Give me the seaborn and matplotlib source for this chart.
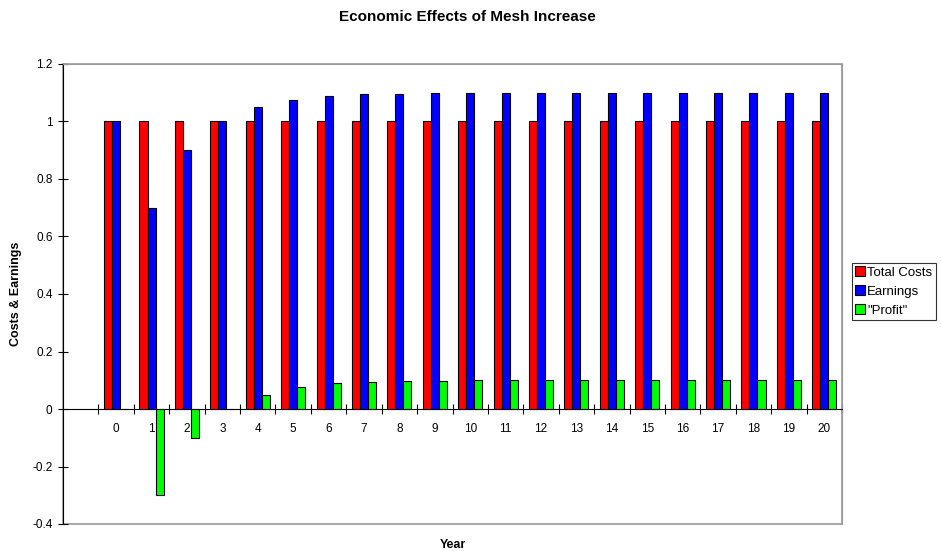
import numpy as np
import pandas as pd
import matplotlib
matplotlib.use("Agg")
import matplotlib.pyplot as plt
import seaborn as sns
from matplotlib.patches import Rectangle

years = [str(y) for y in range(21)]
total_costs = [1.0] * 21
earnings = [1.0, 0.7, 0.9, 1.0, 1.05, 1.075, 1.09, 1.095, 1.097, 1.098, 1.1,
            1.1, 1.1, 1.1, 1.1, 1.1, 1.1, 1.1, 1.1, 1.1, 1.1]
profit = [0.0, -0.3, -0.1, 0.0, 0.05, 0.075, 0.09, 0.095, 0.097, 0.098, 0.1,
          0.1, 0.1, 0.1, 0.1, 0.1, 0.1, 0.1, 0.1, 0.1, 0.1]
series = ['Total Costs', 'Earnings', '"Profit"']
colors = ['#FF0000', '#0000FF', '#00FF00']

df = pd.DataFrame({
    'Year': years * 3,
    'value': total_costs + earnings + profit,
    'series': [s for s in series for _ in years],
})

sns.set_style('white')
plt.rcParams['font.family'] = ['Liberation Sans', 'DejaVu Sans']
plt.rcParams['text.color'] = 'black'
plt.rcParams['xtick.color'] = 'black'
plt.rcParams['ytick.color'] = 'black'

fig = plt.figure(figsize=(9.41, 5.51), dpi=100)
ax = fig.add_axes([63 / 941, 27 / 551, 779 / 941, 460 / 551])

sns.barplot(data=df, x='Year', y='value', hue='series', order=years,
            hue_order=series, palette=colors, saturation=1, width=0.68, gap=0,
            edgecolor='black', linewidth=0.8, ax=ax, errorbar=None)

ax.set_xlim(-1.5, 20.5)
ax.set_ylim(-0.4, 1.2)
ax.set_yticks(np.arange(-0.4, 1.21, 0.2))
ax.set_yticklabels(['-0.4', '-0.2', '0', '0.2', '0.4', '0.6', '0.8', '1', '1.2'])
ax.tick_params(axis='y', direction='inout', length=7, width=0.8, labelsize=8.5, pad=4, left=True)

# x axis drawn on the zero line, tick marks on the category boundaries
ax.spines['bottom'].set_position(('data', 0))
ax.spines['bottom'].set_color('black')
ax.spines['bottom'].set_linewidth(0.8)
ax.spines['left'].set_color('black')
ax.spines['left'].set_linewidth(0.8)
ax.spines['top'].set_color('#999999')
ax.spines['right'].set_color('#999999')
ax.set_xticks(np.arange(-0.5, 20.6, 1), minor=True)
ax.tick_params(axis='x', which='minor', direction='inout', length=7, width=0.8, bottom=True)
ax.tick_params(axis='x', which='major', length=0, labelsize=8.5, pad=10)
ax.add_patch(Rectangle((0, 0), 1, 1, transform=ax.transAxes, fill=False,
                       edgecolor='#999999', linewidth=1.2, clip_on=False, zorder=0))

ax.set_xlabel('')
ax.set_ylabel('')
fig.text(453 / 941, 1 - 545 / 551, 'Year', ha='center', va='center', fontsize=9, fontweight='bold')
fig.text(16.5 / 941, 1 - 294 / 551, 'Costs & Earnings', ha='center', va='center',
         rotation=90, fontsize=9, fontweight='bold')
fig.text(467 / 941, 1 - 17 / 551, 'Economic Effects of Mesh Increase', ha='center', va='center',
         fontsize=11, fontweight='bold')

handles, labels = ax.get_legend_handles_labels()
ax.get_legend().remove()
leg = fig.legend(handles, labels, loc='upper left', bbox_to_anchor=(852 / 941, 1 - 263 / 551),
                 borderaxespad=0, fontsize=9.5, frameon=True, fancybox=False,
                 handlelength=0.75, handleheight=0.75, handletextpad=0.15,
                 borderpad=0.25, labelspacing=0.5)
leg.get_frame().set_edgecolor('black')
leg.get_frame().set_linewidth(0.8)

fig.savefig('out.png', dpi=100)
